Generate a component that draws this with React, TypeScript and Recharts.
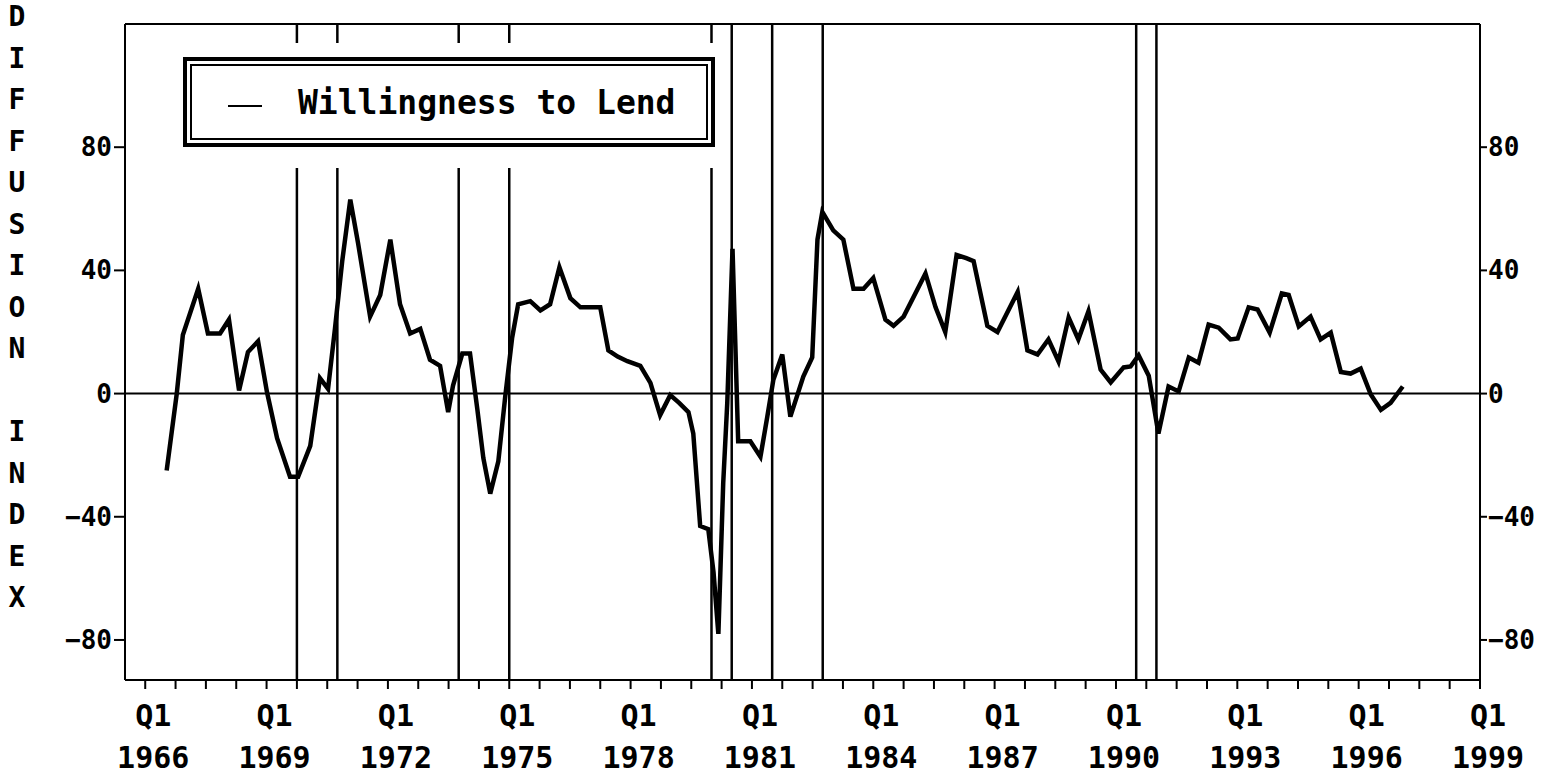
import React from 'react';
import { LineChart, Line, XAxis, YAxis, ReferenceLine } from 'recharts';

// Survey dates (decimal years) and the diffusion index
const dates = [
  1966.53, 1966.78, 1966.93, 1967.31, 1967.55, 1967.85, 1968.07, 1968.32, 1968.54, 1968.79,
  1969.01, 1969.26, 1969.58, 1969.78, 1970.08, 1970.32, 1970.52, 1970.69, 1970.87, 1971.07,
  1971.26, 1971.56, 1971.81, 1972.06, 1972.3, 1972.55, 1972.8, 1973.04, 1973.29, 1973.49,
  1973.61, 1973.84, 1974.03, 1974.21, 1974.36, 1974.53, 1974.73, 1974.9, 1975.07, 1975.22,
  1975.52, 1975.77, 1976.01, 1976.24, 1976.51, 1976.76, 1977.25, 1977.45, 1977.68, 1977.92,
  1978.24, 1978.49, 1978.73, 1978.98, 1979.2, 1979.43, 1979.55, 1979.72, 1979.92, 1980.05,
  1980.17, 1980.29, 1980.39, 1980.52, 1980.66, 1980.96, 1981.21, 1981.38, 1981.53, 1981.75,
  1981.95, 1982.12, 1982.27, 1982.49, 1982.62, 1982.74, 1983.01, 1983.26, 1983.51, 1983.76,
  1984.0, 1984.3, 1984.5, 1984.75, 1985.29, 1985.54, 1985.78, 1986.06, 1986.3, 1986.48,
  1986.82, 1987.07, 1987.57, 1987.81, 1988.06, 1988.33, 1988.58, 1988.83, 1989.07, 1989.32,
  1989.62, 1989.87, 1990.19, 1990.36, 1990.56, 1990.81, 1991.05, 1991.3, 1991.55, 1991.8,
  1992.04, 1992.29, 1992.54, 1992.83, 1993.01, 1993.28, 1993.5, 1993.8, 1994.1, 1994.27,
  1994.52, 1994.81, 1995.06, 1995.31, 1995.56, 1995.8, 1996.05, 1996.3, 1996.55, 1996.79,
  1997.09,
];

const willingness = [
  -25, 0, 19, 34, 19.5, 19.5, 24, 1, 13.5, 17,
  0.5, -14.5, -27, -27, -17, 5, 1.5, 21, 43, 63,
  49, 25, 32, 50, 29, 19.5, 21, 11, 9, -6,
  2.6, 13, 13, -5, -21, -32.5, -22, -1, 18, 29,
  30, 27, 29, 41, 31, 28, 28, 14, 12, 10.5,
  9, 3.5, -7, -0.5, -3, -6, -13, -43, -44, -58,
  -78, -29, -3, 47, -15.5, -15.5, -20.5, -7.5, 4.5, 12.7,
  -7.5, -0.6, 5.5, 11.7, 50, 59, 53, 50, 34, 34,
  37.5, 24, 22, 25, 39, 28, 20, 45, 44, 43,
  22, 20, 33, 14, 12.7, 17.6, 10.4, 24.7, 17.6, 26.7,
  7.8, 3.6, 8.5, 8.8, 12.4, 5.8, -13, 2.3, 0.7, 11.7,
  10, 22.4, 21.4, 17.6, 17.9, 28, 27.3, 19.8, 32.5, 32,
  21.8, 25, 17.6, 19.8, 7, 6.5, 8.1, -0.3, -5.3, -3,
  2.3,
];

// recession start / end markers
const recessionLines = [1969.75, 1970.75, 1973.75, 1975.0, 1980.0, 1980.5, 1981.5, 1982.75, 1990.5, 1991.0];

const labelYears = [1966, 1969, 1972, 1975, 1978, 1981, 1984, 1987, 1990, 1993, 1996, 1999];
const yTicks = [-80, -40, 0, 40, 80];
const titleLetters = ['D', 'I', 'F', 'F', 'U', 'S', 'I', 'O', 'N', '', 'I', 'N', 'D', 'E', 'X'];

const data = dates.map((t, i) => ({ t, v: willingness[i] }));
// minor ticks every three quarters
const xTicks = Array.from({ length: 45 }, (_, i) => 1966 + i * 0.75);

const FONT = '"DejaVu Sans Mono", monospace';
const Y_DOMAIN: [number, number] = [-93, 120];

const fmt = (v: number) => (v < 0 ? '\u2212' + Math.abs(v) : String(v));

const XTick = (props: any) => {
  const { x, payload } = props;
  const yr = Math.round(payload.value);
  if (Math.abs(payload.value - yr) > 0.01 || !labelYears.includes(yr)) return <g />;
  return (
    <g fontFamily={FONT} fontWeight="bold" fontSize={30} fill="#000">
      <text x={x + 8} y={726} textAnchor="middle">Q1</text>
      <text x={x + 8} y={768} textAnchor="middle">{yr}</text>
    </g>
  );
};

const LeftTick = (props: any) => {
  const { x, y, payload } = props;
  return (
    <text x={x} y={y} dy={9} textAnchor="end" fontFamily={FONT} fontWeight="bold" fontSize={26} fill="#000">
      {fmt(payload.value)}
    </text>
  );
};

const RightTick = (props: any) => {
  const { x, y, payload } = props;
  return (
    <text x={x} y={y} dy={9} textAnchor="start" fontFamily={FONT} fontWeight="bold" fontSize={26} fill="#000">
      {fmt(payload.value)}
    </text>
  );
};

export default function App() {
  return (
    <div style={{ position: 'absolute', left: 0, top: 0, width: 1554, height: 776, background: '#fff' }}>
      <LineChart width={1554} height={776} data={data} margin={{ top: 24, right: 0, bottom: 0, left: 0 }}>
        <XAxis
          dataKey="t"
          type="number"
          domain={[1965.5, 1999]}
          ticks={xTicks}
          interval={0}
          height={96}
          tickSize={9}
          axisLine={{ stroke: '#000', strokeWidth: 2 }}
          tickLine={{ stroke: '#000', strokeWidth: 2 }}
          tick={<XTick />}
          allowDataOverflow
        />
        <YAxis
          yAxisId="left"
          type="number"
          domain={Y_DOMAIN}
          ticks={yTicks}
          interval={0}
          width={125}
          tickSize={11}
          tickMargin={2}
          axisLine={{ stroke: '#000', strokeWidth: 2 }}
          tickLine={{ stroke: '#000', strokeWidth: 2 }}
          tick={<LeftTick />}
          allowDataOverflow
        />
        <YAxis
          yAxisId="right"
          orientation="right"
          type="number"
          domain={Y_DOMAIN}
          ticks={yTicks}
          interval={0}
          width={74}
          tickSize={7}
          tickMargin={1}
          axisLine={{ stroke: '#000', strokeWidth: 2 }}
          tickLine={{ stroke: '#000', strokeWidth: 2 }}
          tick={<RightTick />}
          allowDataOverflow
        />
        <ReferenceLine yAxisId="left" y={120} stroke="#000" strokeWidth={2} />
        <ReferenceLine yAxisId="left" y={0} stroke="#000" strokeWidth={2} />
        {recessionLines.map((r) => (
          <ReferenceLine key={r} yAxisId="left" x={r} stroke="#000" strokeWidth={2.5} />
        ))}
        <Line
          yAxisId="left"
          type="linear"
          dataKey="v"
          stroke="#000"
          strokeWidth={4.5}
          strokeLinejoin="miter"
          dot={false}
          isAnimationActive={false}
        />
      </LineChart>

      {/* clear band round the legend */}
      <div style={{ position: 'absolute', left: 170, top: 43, width: 552, height: 125, background: '#fff' }} />
      <div
        style={{
          position: 'absolute', left: 183, top: 57, width: 532, height: 90,
          border: '4px solid #000', boxSizing: 'border-box', background: '#fff',
        }}
      >
        <div
          style={{
            position: 'absolute', left: 3, top: 3, right: 3, bottom: 3,
            border: '2px solid #000', boxSizing: 'border-box',
          }}
        />
        <div style={{ position: 'absolute', left: 41, top: 44, width: 34, height: 2, background: '#000' }} />
        <div
          style={{
            position: 'absolute', left: 111, top: 24, fontFamily: FONT, fontWeight: 'bold',
            fontSize: 33, lineHeight: '36px', color: '#000', whiteSpace: 'nowrap',
          }}
        >
          Willingness to Lend
        </div>
      </div>

      {titleLetters.map((ch, i) => (
        <div
          key={i}
          style={{
            position: 'absolute', left: 2, width: 30, top: 17 + i * 41.5 - 15, height: 30,
            lineHeight: '30px', textAlign: 'center', fontFamily: FONT, fontWeight: 'bold',
            fontSize: 28, color: '#000',
          }}
        >
          {ch}
        </div>
      ))}
    </div>
  );
}
